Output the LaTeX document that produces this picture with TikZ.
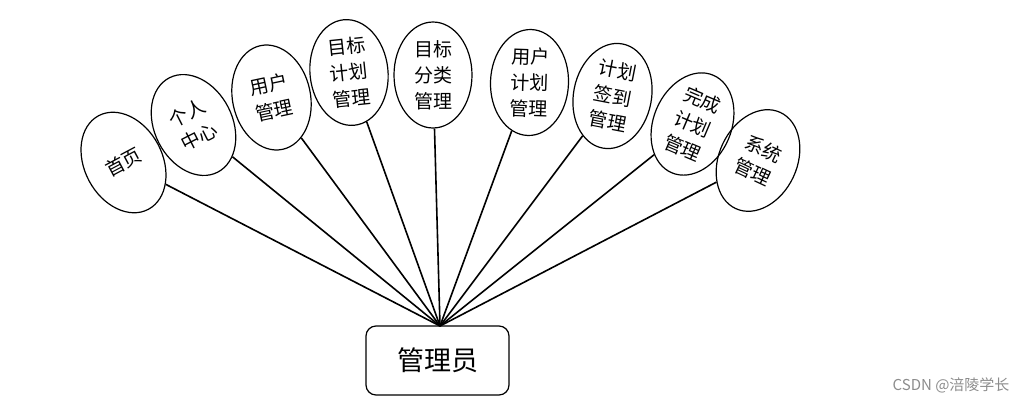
\documentclass[tikz,border=0pt]{standalone}
\usepackage{fontspec}
\newfontfamily\cjk{Noto Sans CJK SC}
\usetikzlibrary{shapes.geometric}

\begin{document}
\begin{tikzpicture}[x=1pt,y=-1pt,
  func/.style={ellipse, draw=black, line width=1.2pt, minimum width=78pt, minimum height=106pt,
    inner sep=0pt, align=center, font=\cjk\fontsize{19}{26}\selectfont},
  role/.style={draw=black, line width=1.2pt, rounded corners=10pt, minimum width=143pt,
    minimum height=69pt, font=\cjk\fontsize{27}{30}\selectfont},
  link/.style={draw=black, line width=1.6pt}]
\definecolor{markgray}{RGB}{140,140,140}
\useasboundingbox (0,0) rectangle (1029,405);

% ======================= Rolle =======================
\node[role] (admin) at (437.5,360.5) {管理员};
\coordinate (apex) at (440,326);

% ======================= Funktionen (Faecher) =======================
\node[func, rotate=28] (home)    at (123.5,162.5) {首页};
\node[func, rotate=27] (self)    at (193.5,125)   {个人\\中心};
\node[func, rotate=12] (user)    at (271.5,97.5)  {用户\\管理};
\node[func, rotate=6]  (goal)    at (349,72.5)    {目标\\计划\\管理};
\node[func]            (cat)     at (433,75)      {目标\\分类\\管理};
\node[func, rotate=-2] (uplan)   at (529.5,82.5)  {用户\\计划\\管理};
\node[func, rotate=-11] (sign)   at (612.5,96)    {计划\\签到\\管理};
\node[func, rotate=-23] (done)   at (692.5,124)   {完成\\计划\\管理};
\node[func, rotate=-25] (sys)    at (758,160.5)   {系统\\管理};

% Verbindungen zur Rolle
\foreach \f in {home,self,user,goal,cat,uplan,sign,done,sys}
  \draw[link] (\f) -- (apex);

% Wasserzeichen
\node[markgray, font=\cjk\fontsize{15}{17}\selectfont, anchor=east] (mark) at (1013,385) {CSDN @涪陵学长};
\end{tikzpicture}
\end{document}
